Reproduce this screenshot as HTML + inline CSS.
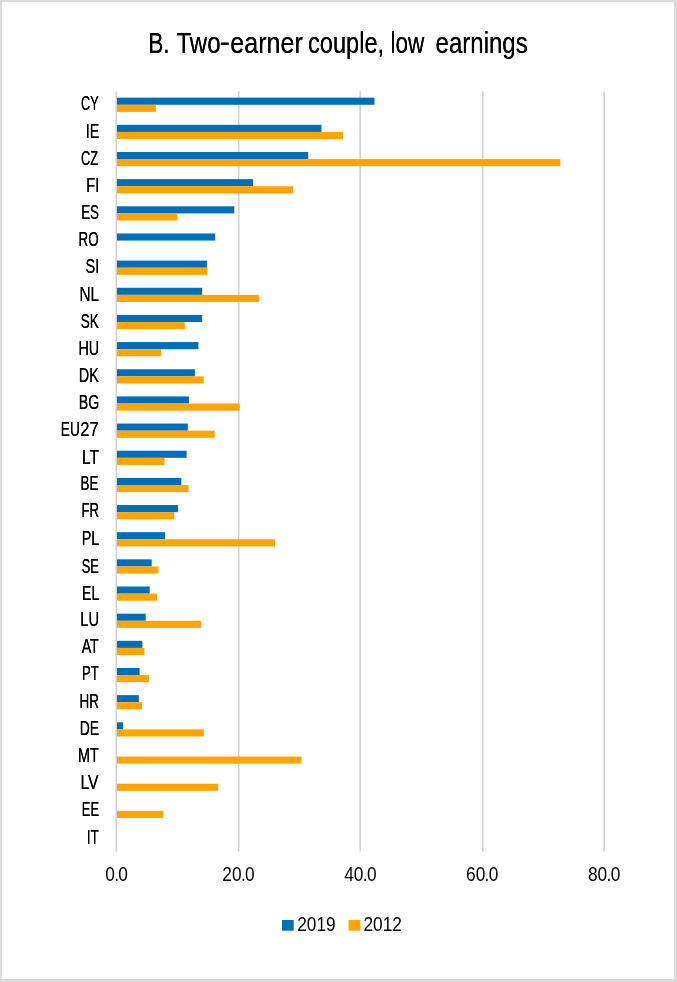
<!DOCTYPE html>
<html lang="en">
<head>
<meta charset="utf-8">
<title>B. Two-earner couple, low earnings</title>
<style>
html,body{margin:0;padding:0;background:#fff;}
body{width:677px;height:982px;overflow:hidden;position:relative;}
.frame{position:absolute;left:0;top:0;width:677px;height:982px;box-sizing:border-box;border-style:solid;border-color:#DBDBDB;border-width:2px 3px 3px 2px;background:#fff;}
svg{position:absolute;left:0;top:0;}
text{font-family:"Liberation Sans",sans-serif;fill:#000;}
.t{font-size:29.6px;}
.l{font-size:19.5px;}
.n{font-size:20.2px;}
.l{filter:drop-shadow(0.8px 0 0 #000);}
.n{filter:none;}
.t{filter:drop-shadow(0.3px 0 0 #000);}
</style>
</head>
<body>
<div class="frame"></div>
<svg width="677" height="982" viewBox="0 0 677 982">
<g stroke="#D2D2D2" stroke-width="1.6" fill="none">
<line x1="116.3" y1="91.2" x2="116.3" y2="851.6"/>
<line x1="238.7" y1="91.2" x2="238.7" y2="851.6"/>
<line x1="360.2" y1="91.2" x2="360.2" y2="851.6"/>
<line x1="482.7" y1="91.2" x2="482.7" y2="851.6"/>
<line x1="604.2" y1="91.2" x2="604.2" y2="851.6"/>
</g>
<g fill="#036EB8">
<rect x="117" y="97.67" width="257.50" height="7.11"/>
<rect x="117" y="124.83" width="204.50" height="7.11"/>
<rect x="117" y="151.98" width="191.20" height="7.11"/>
<rect x="117" y="179.14" width="136.10" height="7.11"/>
<rect x="117" y="206.30" width="117.30" height="7.11"/>
<rect x="117" y="233.46" width="98.20" height="7.11"/>
<rect x="117" y="260.61" width="89.90" height="7.11"/>
<rect x="117" y="287.77" width="85.20" height="7.11"/>
<rect x="117" y="314.93" width="85.20" height="7.11"/>
<rect x="117" y="342.08" width="81.40" height="7.11"/>
<rect x="117" y="369.24" width="77.90" height="7.11"/>
<rect x="117" y="396.40" width="71.90" height="7.11"/>
<rect x="117" y="423.56" width="70.85" height="7.11"/>
<rect x="117" y="450.71" width="69.60" height="7.11"/>
<rect x="117" y="477.87" width="64.30" height="7.11"/>
<rect x="117" y="505.03" width="61.10" height="7.11"/>
<rect x="117" y="532.18" width="48.20" height="7.11"/>
<rect x="117" y="559.34" width="34.70" height="7.11"/>
<rect x="117" y="586.50" width="32.70" height="7.11"/>
<rect x="117" y="613.66" width="28.70" height="7.11"/>
<rect x="117" y="640.81" width="25.40" height="7.11"/>
<rect x="117" y="667.97" width="22.60" height="7.11"/>
<rect x="117" y="695.13" width="21.90" height="7.11"/>
<rect x="117" y="722.28" width="6.10" height="7.11"/>
</g>
<g fill="#FFA400">
<rect x="117" y="104.78" width="39.00" height="7.11"/>
<rect x="117" y="131.94" width="226.10" height="7.11"/>
<rect x="117" y="159.09" width="443.30" height="7.11"/>
<rect x="117" y="186.25" width="176.10" height="7.11"/>
<rect x="117" y="213.41" width="60.30" height="7.11"/>
<rect x="117" y="267.72" width="90.40" height="7.11"/>
<rect x="117" y="294.88" width="141.90" height="7.11"/>
<rect x="117" y="322.04" width="67.80" height="7.11"/>
<rect x="117" y="349.19" width="44.00" height="7.11"/>
<rect x="117" y="376.35" width="86.70" height="7.11"/>
<rect x="117" y="403.51" width="122.80" height="7.11"/>
<rect x="117" y="430.66" width="97.70" height="7.11"/>
<rect x="117" y="457.82" width="47.50" height="7.11"/>
<rect x="117" y="484.98" width="71.60" height="7.11"/>
<rect x="117" y="512.14" width="57.30" height="7.11"/>
<rect x="117" y="539.29" width="158.00" height="7.11"/>
<rect x="117" y="566.45" width="41.50" height="7.11"/>
<rect x="117" y="593.61" width="40.00" height="7.11"/>
<rect x="117" y="620.76" width="84.20" height="7.11"/>
<rect x="117" y="647.92" width="27.40" height="7.11"/>
<rect x="117" y="675.08" width="32.20" height="7.11"/>
<rect x="117" y="702.24" width="25.10" height="7.11"/>
<rect x="117" y="729.39" width="86.90" height="7.11"/>
<rect x="117" y="756.55" width="184.40" height="7.11"/>
<rect x="117" y="783.71" width="101.25" height="7.11"/>
<rect x="117" y="810.86" width="46.35" height="7.11"/>
</g>
<g class="l">
<text transform="translate(81.06,110.05) scale(0.649,1)">CY</text>
<text transform="translate(85.69,137.60) scale(0.728,1)">IE</text>
<text transform="translate(81.05,164.71) scale(0.657,1)">CZ</text>
<text transform="translate(86.21,191.70) scale(0.751,1)">FI</text>
<text transform="translate(81.15,219.10) scale(0.689,1)">ES</text>
<text transform="translate(78.60,245.79) scale(0.690,1)">RO</text>
<text transform="translate(85.44,272.84) scale(0.748,1)">SI</text>
<text transform="translate(79.46,300.65) scale(0.783,1)">NL</text>
<text transform="translate(80.68,327.70) scale(0.695,1)">SK</text>
<text transform="translate(78.38,354.81) scale(0.738,1)">HU</text>
<text transform="translate(78.78,381.50) scale(0.738,1)">DK</text>
<text transform="translate(78.79,409.00) scale(0.726,1)">BG</text>
<text y="436.41"><tspan x="60.78" textLength="19.02" lengthAdjust="spacingAndGlyphs">EU</tspan><tspan x="80.27" textLength="18.40" lengthAdjust="spacingAndGlyphs">27</tspan></text>
<text transform="translate(81.89,463.50) scale(0.797,1)">LT</text>
<text transform="translate(80.60,490.30) scale(0.687,1)">BE</text>
<text transform="translate(81.47,517.20) scale(0.677,1)">FR</text>
<text transform="translate(81.68,544.61) scale(0.737,1)">PL</text>
<text transform="translate(81.70,572.50) scale(0.655,1)">SE</text>
<text transform="translate(82.00,599.60) scale(0.723,1)">EL</text>
<text transform="translate(80.24,626.31) scale(0.760,1)">LU</text>
<text transform="translate(81.65,652.90) scale(0.733,1)">AT</text>
<text transform="translate(82.08,680.00) scale(0.672,1)">PT</text>
<text transform="translate(79.60,707.81) scale(0.691,1)">HR</text>
<text transform="translate(79.81,734.91) scale(0.715,1)">DE</text>
<text transform="translate(78.08,761.97) scale(0.738,1)">MT</text>
<text transform="translate(80.42,789.33) scale(0.808,1)">LV</text>
<text transform="translate(81.78,815.69) scale(0.668,1)">EE</text>
<text transform="translate(86.74,843.90) scale(0.698,1)">IT</text>
</g>
<g class="l n" text-anchor="middle">
<text transform="translate(116.6,880.6) scale(0.856,1)">0<tspan dx="-0.76">.</tspan><tspan dx="-0.76">0</tspan></text>
<text transform="translate(238.5,880.6) scale(0.856,1)">20<tspan dx="-0.76">.</tspan><tspan dx="-0.76">0</tspan></text>
<text transform="translate(360.35,880.6) scale(0.856,1)">40<tspan dx="-0.76">.</tspan><tspan dx="-0.76">0</tspan></text>
<text transform="translate(482.2,880.6) scale(0.856,1)">60<tspan dx="-0.76">.</tspan><tspan dx="-0.76">0</tspan></text>
<text transform="translate(604.1,880.6) scale(0.856,1)">80<tspan dx="-0.76">.</tspan><tspan dx="-0.76">0</tspan></text>
</g>
<text class="t" y="53" xml:space="preserve"><tspan x="148.13" textLength="21.42" lengthAdjust="spacingAndGlyphs">B.</tspan> <tspan x="176.52" textLength="44.05" lengthAdjust="spacingAndGlyphs">Two</tspan><tspan x="219.52" textLength="10.41" lengthAdjust="spacingAndGlyphs" dy="-1.1">-</tspan><tspan x="230.32" textLength="72.41" lengthAdjust="spacingAndGlyphs" dy="1.1">earner</tspan> <tspan x="308.06" textLength="76.10" lengthAdjust="spacingAndGlyphs">couple,</tspan> <tspan x="390.49" textLength="33.83" lengthAdjust="spacingAndGlyphs">low</tspan> <tspan x="435.55" textLength="92.20" lengthAdjust="spacingAndGlyphs">earnings</tspan></text>
<rect x="282" y="920" width="11.7" height="10.7" fill="#036EB8"/>
<rect x="348.6" y="920" width="11.7" height="10.7" fill="#FFA400"/>
<g class="l n">
<text transform="translate(297.2,931.1) scale(0.856,1)">2019</text>
<text transform="translate(363.4,931.1) scale(0.856,1)">2012</text>
</g>
</svg>
</body>
</html>
